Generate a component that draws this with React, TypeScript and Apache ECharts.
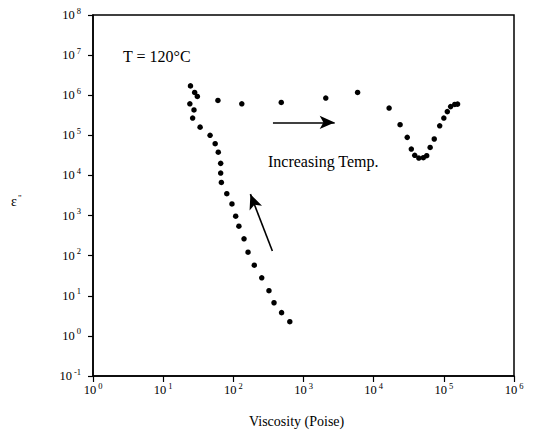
import React, { useEffect, useRef } from "react";
import * as echarts from "echarts";

// Low-viscosity branch (descending curve)
const viscLow = [24.5, 28.1, 30.7, 24.0, 27.5, 26.3, 33.6, 46.6, 55.1, 61, 66, 66, 67.5, 80.7, 95.6, 108, 120, 142, 162, 199, 254, 322, 380, 487, 638];
const epsLow = [1.71e6, 1.17e6, 9.3e5, 6.1e5, 4.3e5, 2.7e5, 1.6e5, 1.0e5, 6.2e4, 3.8e4, 2.0e4, 1.15e4, 6.7e3, 3.5e3, 1.95e3, 962, 543, 263, 122, 58, 28, 13.4, 6.7, 3.8, 2.26];

// High-viscosity branch (upper curve with dip)
const viscHigh = [60.3, 132, 482, 2077, 5900, 16600, 23800, 30100, 34400, 38500, 44000, 51000, 57000, 63800, 73000, 87300, 100000, 112000, 125000, 143000, 157000];
const epsHigh = [7.4e5, 6.1e5, 6.6e5, 8.5e5, 1.17e6, 4.8e5, 1.84e5, 8.9e4, 4.55e4, 3.17e4, 2.72e4, 2.77e4, 3.1e4, 5.0e4, 8.1e4, 1.73e5, 2.7e5, 3.9e5, 5.2e5, 5.9e5, 6.0e5];

// Annotation arrows (data coordinates: [viscosity, eps])
const arrowRight = [[367, 2.1e5], [2782, 2.1e5]];
const arrowUp = [[360, 131], [175, 3420]];

const FONT = "Liberation Serif";

const powLabel = (v: number) => {
  const e = Math.round(Math.log10(v));
  return `{b|10}{s|${e < 0 ? "-" : ""}${Math.abs(e)}}`;
};

const richLabel = {
  b: { fontFamily: FONT, fontSize: 12.5, color: "#000" },
  s: { fontFamily: FONT, fontSize: 8.5, color: "#000", padding: [0, 0, 9, 2] },
};

export default function App() {
  const ref = useRef<HTMLDivElement>(null);
  useEffect(() => {
    document.body.style.margin = "0";
    const chart = echarts.init(ref.current!, null, { renderer: "svg" });
    chart.setOption({
      animation: false,
      backgroundColor: "#fff",
      textStyle: { color: "#000", fontFamily: FONT },
      grid: {
        left: 93,
        right: 22,
        top: 15,
        bottom: 58,
        show: true,
        borderColor: "#000",
        borderWidth: 1.5,
      },
      xAxis: {
        type: "log",
        logBase: 10,
        min: 1,
        max: 1e6,
        axisLine: { show: true, lineStyle: { color: "#000", width: 1.5 } },
        axisTick: { show: true, inside: false, length: 6, lineStyle: { color: "#000", width: 1.2 } },
        splitLine: { show: false },
        minorTick: { show: false },
        axisLabel: {
          formatter: powLabel,
          rich: richLabel,
          margin: 5,
          color: "#000",
        },
      },
      yAxis: {
        type: "log",
        logBase: 10,
        min: 0.1,
        max: 1e8,
        axisLine: { show: true, lineStyle: { color: "#000", width: 1.5 } },
        axisTick: { show: true, inside: false, length: 5, lineStyle: { color: "#000", width: 1.2 } },
        splitLine: { show: false },
        axisLabel: {
          formatter: powLabel,
          rich: richLabel,
          margin: 12,
          color: "#000",
        },
      },
      graphic: [
        {
          type: "text",
          left: 123,
          top: 48,
          style: { text: "T = 120°C", font: `16px ${FONT}`, fill: "#000" },
        },
        {
          type: "text",
          left: 268,
          top: 153,
          style: { text: "Increasing Temp.", font: `16px ${FONT}`, fill: "#000" },
        },
        {
          type: "text",
          left: 249,
          top: 414,
          style: { text: "Viscosity (Poise)", font: `14px ${FONT}`, fill: "#000" },
        },
        {
          type: "text",
          left: 11,
          top: 193,
          style: {
            text: "{e|ε}{q|\"}",
            rich: {
              e: { fontFamily: FONT, fontSize: 14, fill: "#000", color: "#000" },
              q: { fontFamily: FONT, fontSize: 9, fill: "#000", color: "#000", padding: [0, 0, 7, 1] },
            },
          },
        },
      ],
      series: [
        {
          name: "low",
          type: "scatter",
          symbol: "circle",
          symbolSize: 5.5,
          itemStyle: { color: "#000", opacity: 1 },
          data: viscLow.map((x, i) => [x, epsLow[i]]),
          markLine: {
            silent: true,
            symbol: ["none", "arrow"],
            symbolSize: [10, 15],
            lineStyle: { color: "#000", width: 1.6, type: "solid", opacity: 1 },
            label: { show: false },
            data: [
              [{ coord: arrowRight[0] }, { coord: arrowRight[1] }],
              [{ coord: arrowUp[0] }, { coord: arrowUp[1] }],
            ],
          },
        },
        {
          name: "high",
          type: "scatter",
          symbol: "circle",
          symbolSize: 5.5,
          itemStyle: { color: "#000", opacity: 1 },
          data: viscHigh.map((x, i) => [x, epsHigh[i]]),
        },
      ],
    });
    return () => chart.dispose();
  }, []);
  return <div ref={ref} style={{ width: 536, height: 434 }} />;
}
